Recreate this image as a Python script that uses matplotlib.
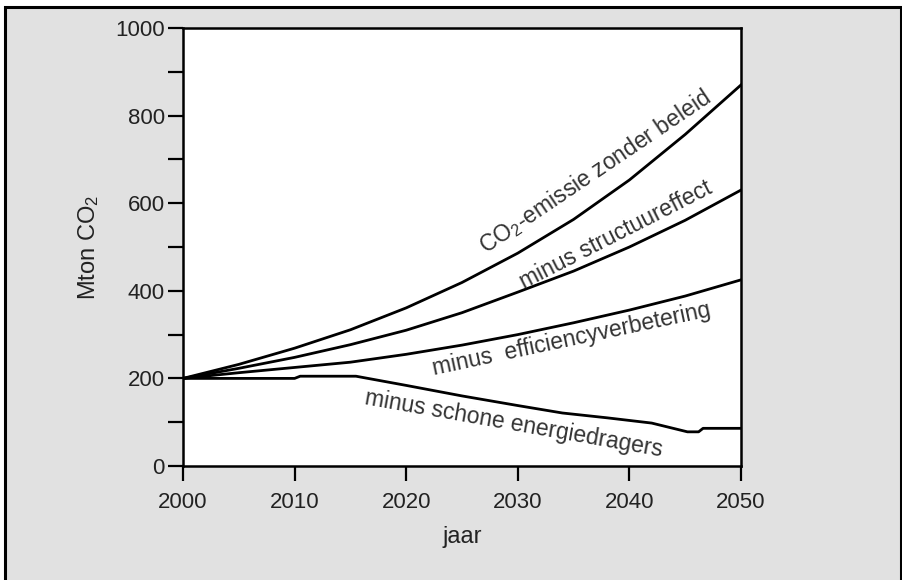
import matplotlib
matplotlib.use("Agg")
import matplotlib.pyplot as plt
from matplotlib.patches import Rectangle
from matplotlib.ticker import MultipleLocator

plt.rcParams['font.family'] = ['Liberation Sans', 'DejaVu Sans']
plt.rcParams['mathtext.default'] = 'regular'

# ---- data ----
years = [2000, 2005, 2010, 2015, 2020, 2025, 2030, 2035, 2040, 2045, 2050]
zonder_beleid = [200, 232, 269, 311, 361, 419, 486, 563, 653, 757, 870]
structuureffect = [200, 223, 248, 277, 310, 350, 397, 445, 500, 561, 630]
efficiency = [200, 213, 225, 237, 255, 276, 300, 327, 356, 388, 425]
schone_years = [2000, 2010, 2010.5, 2015.5, 2020, 2025, 2030, 2034, 2038, 2042, 2045.2, 2046.2, 2046.6, 2050]
schone = [200, 200, 205, 205, 184, 160, 138, 121, 110, 98, 78, 78, 86, 86]

x_ticks = [2000, 2010, 2020, 2030, 2040, 2050]
y_ticks = [0, 200, 400, 600, 800, 1000]

labels = ["CO$_2$-emissie zonder beleid", "minus structuureffect",
          "minus  efficiencyverbetering", "minus schone energiedragers"]

W, H = 902, 580
fig = plt.figure(figsize=(W / 100, H / 100), dpi=100)
fig.patch.set_facecolor('white')

# gray frame with black border
frame = Rectangle((5 / W, -0.02), 896 / W, (H - 7) / H + 0.02,
                  transform=fig.transFigure, facecolor='#e1e1e1',
                  edgecolor='black', linewidth=2.2)
frame.set_zorder(-10)
fig.add_artist(frame)

ax = fig.add_axes([183 / W, 1 - 466 / H, (741 - 183) / W, (466 - 28) / H])
ax.set_zorder(5)
ax.set_facecolor('white')

for series in (zonder_beleid, structuureffect, efficiency):
    ax.plot(years, series, color='black', lw=2.0, solid_joinstyle='miter')
ax.plot(schone_years, schone, color='black', lw=2.0)

ax.set_xlim(2000, 2050)
ax.set_ylim(0, 1000)
ax.set_xticks(x_ticks)
ax.set_yticks(y_ticks)
ax.yaxis.set_minor_locator(MultipleLocator(100))
ax.tick_params(axis='both', which='both', direction='out', length=11, width=1.6,
               color='black', labelsize=16, labelcolor='#222222')
ax.tick_params(axis='x', pad=8)
ax.tick_params(axis='y', pad=2)
for s in ax.spines.values():
    s.set_linewidth(1.8)
    s.set_color('black')

ax.set_xlabel('jaar', fontsize=17, color='#222222', labelpad=9)
ax.set_ylabel('Mton CO$_2$', fontsize=17, color='#222222', labelpad=10)

tc = '#333333'
ax.text(2036.9, 672, labels[0], rotation=34, ha='center', va='center',
        fontsize=16.5, color=tc, rotation_mode='anchor')
ax.text(2038.8, 527, labels[1], rotation=27, ha='center', va='center',
        fontsize=16.5, color=tc, rotation_mode='anchor')
ax.text(2034.8, 290, labels[2], rotation=12, ha='center', va='center',
        fontsize=16.5, color=tc, rotation_mode='anchor')
ax.text(2029.6, 95, labels[3], rotation=-10, ha='center', va='center',
        fontsize=16.5, color=tc, rotation_mode='anchor')

fig.savefig('out.png', dpi=100, facecolor=fig.get_facecolor())
